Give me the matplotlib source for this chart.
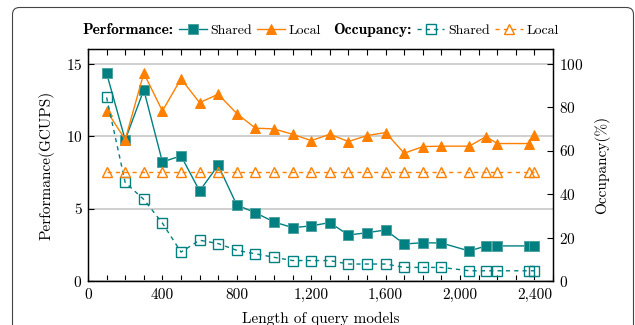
import numpy as np
import matplotlib.pyplot as plt
from matplotlib.lines import Line2D
from matplotlib.patches import FancyBboxPatch
from matplotlib.ticker import MultipleLocator, StrMethodFormatter
from matplotlib.transforms import IdentityTransform

plt.rcParams['font.family'] = 'cmr10'
plt.rcParams['mathtext.fontset'] = 'cm'
plt.rcParams['axes.formatter.use_mathtext'] = True

# data
query_len = [100, 200, 300, 400, 500, 600, 700, 800, 900, 1000, 1100, 1200,
             1300, 1400, 1500, 1600, 1700, 1800, 1900, 2050, 2140, 2200, 2370, 2400]
perf_shared = [14.33, 9.73, 13.18, 8.21, 8.63, 6.21, 7.98, 5.24, 4.71, 4.07, 3.68, 3.80,
               4.03, 3.17, 3.33, 3.52, 2.55, 2.64, 2.62, 2.07, 2.42, 2.42, 2.42, 2.42]
perf_local = [11.75, 9.75, 14.33, 11.73, 13.94, 12.30, 12.88, 11.55, 10.54, 10.49, 10.12, 9.68,
              10.12, 9.62, 10.03, 10.24, 8.81, 9.27, 9.30, 9.30, 9.96, 9.48, 9.48, 10.10]
occ_shared = [84.4, 45.3, 37.5, 26.6, 13.3, 18.75, 17.2, 14.1, 12.5, 10.9, 9.4, 9.4,
              9.4, 7.8, 7.8, 7.8, 6.25, 6.25, 6.25, 4.7, 4.7, 4.7, 4.7, 4.7]
occ_local = [50] * len(query_len)

teal = '#008080'
orange = '#ff8000'
dash = (0, (3, 3))

fig = plt.figure(figsize=(6.35, 3.25), dpi=100)
ax = fig.add_axes([88 / 635, 44 / 325, 465 / 635, 232 / 325])
ax2 = ax.twinx()

l1, = ax.plot(query_len, perf_shared, color=teal, lw=1, marker='s', ms=7,
              mfc=teal, mec='#4fa3a3', mew=0.7, zorder=3)
l2, = ax.plot(query_len, perf_local, color=orange, lw=1, marker='^', ms=7.5,
              mfc=orange, mec=orange, mew=0.7, zorder=3)
l3, = ax2.plot(query_len, occ_shared, color=teal, lw=1, ls=dash, marker='s', ms=7,
               mfc='none', mec=teal, mew=1)
l4, = ax2.plot(query_len, occ_local, color=orange, lw=1, ls=dash, marker='^', ms=7.5,
               mfc='none', mec=orange, mew=1)

ax.set_xlim(0, 2500)
ax.set_ylim(0, 16)
ax2.set_ylim(0, 16 / 15 * 100)

ax.xaxis.set_major_locator(MultipleLocator(400))
ax.xaxis.set_minor_locator(MultipleLocator(100))
ax.xaxis.set_major_formatter(StrMethodFormatter('{x:,.0f}'))
ax.set_yticks([0, 5, 10, 15])
ax2.set_yticks([0, 20, 40, 60, 80, 100])

ax.tick_params(axis='x', which='both', direction='in', top=True, length=4, width=0.8,
               labelsize=11, pad=5)
ax.tick_params(axis='y', direction='in', length=4, width=0.8, labelsize=11, pad=4)
ax2.tick_params(axis='y', direction='in', length=4, width=0.8, labelsize=11, pad=4)

for a in (ax, ax2):
    for s in a.spines.values():
        s.set_linewidth(0.9)

ax.yaxis.grid(True, color='#cccccc', lw=1.3)
ax.set_axisbelow(True)

ax.set_xlabel('Length of query models', fontsize=11, labelpad=7)
ax.set_ylabel('Performance(GCUPS)', fontsize=11, labelpad=8)
ax2.set_ylabel('Occupancy(%)', fontsize=11, labelpad=8)

blank = Line2D([], [], ls='none')
handles = [blank, l1, l2, blank, l3, l4]
labels = ['Performance:', 'Shared', 'Local', 'Occupancy:', 'Shared', 'Local']
leg = fig.legend(handles, labels, ncol=6, loc='center', bbox_to_anchor=(321 / 635, 1 - 30 / 325),
                 frameon=False, fontsize=10, handlelength=2.0, handletextpad=0.28,
                 columnspacing=0.36, borderpad=0)
for t in leg.get_texts():
    if t.get_text().endswith(':'):
        t.set_fontfamily('cmb10')
        t.set_fontsize(11.2)
# no handle space in front of the bold titles, a small gap before the second one
for col in leg._legend_handle_box.get_children():
    for row in col.get_children():
        da, ta = row.get_children()
        if ta.get_text() == 'Performance:':
            da.width = 0
            row.sep = 0
        elif ta.get_text() == 'Occupancy:':
            da.width = 5
            row.sep = 0

frame = FancyBboxPatch((12.5, -20), 621, 325 - 7.5 + 20,
                       boxstyle='round,pad=0,rounding_size=7',
                       fc='none', ec='#444444', lw=0.8, transform=IdentityTransform())
fig.add_artist(frame)

fig.savefig('out.png', dpi=100)
